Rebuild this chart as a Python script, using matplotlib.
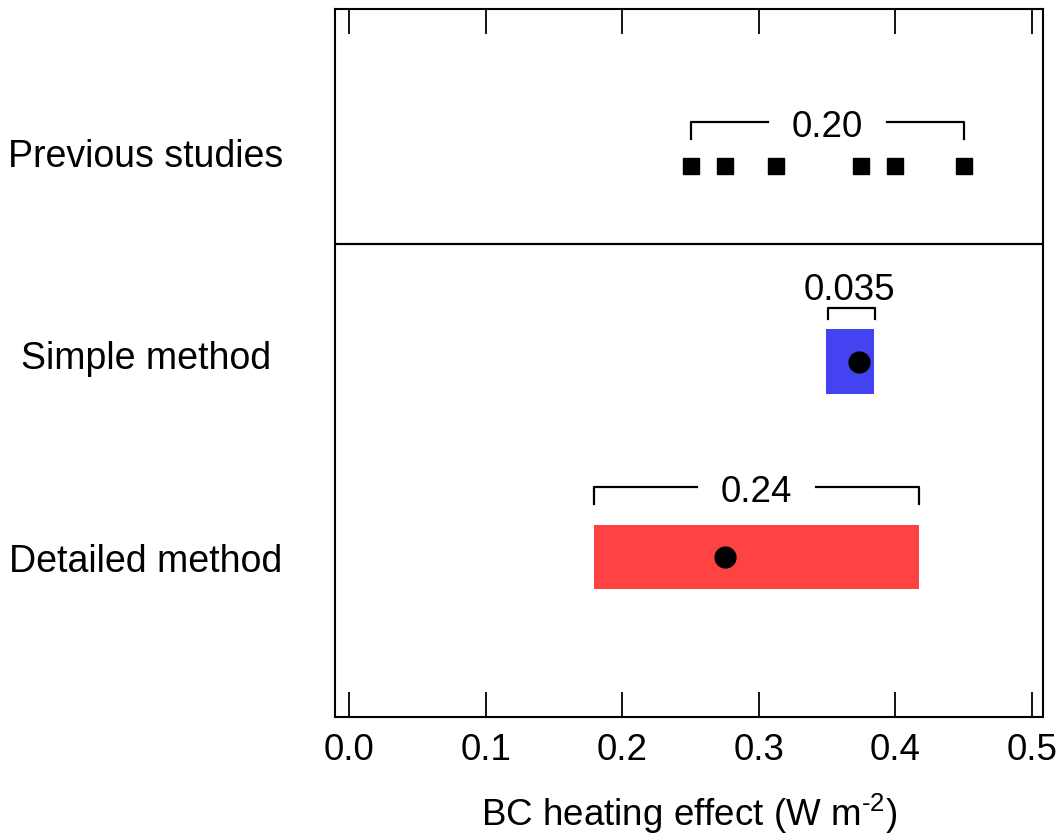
import numpy as np
import matplotlib
matplotlib.use("Agg")
import matplotlib.pyplot as plt
import matplotlib.transforms as mtransforms

plt.rcParams['font.family'] = ['Liberation Sans', 'DejaVu Sans']
plt.rcParams['mathtext.fontset'] = 'custom'
plt.rcParams['mathtext.rm'] = 'Liberation Sans'
plt.rcParams['mathtext.default'] = 'regular'

# data
row_names = ["Previous studies", "Simple method", "Detailed method"]
previous_values = [0.25, 0.275, 0.3125, 0.375, 0.40, 0.45]
range_low = [0.349, 0.1795]      # simple, detailed
range_high = [0.384, 0.4173]
central_values = [0.3735, 0.2755]
range_labels = ["0.20", "0.035", "0.24"]
xticks = [0.0, 0.1, 0.2, 0.3, 0.4, 0.5]

row_y = [3, 2, 1]
bar_colors = ['#4343f2', '#ff4242']

fig = plt.figure(figsize=(10.63, 8.37), dpi=100)
ax = fig.add_axes([335/1063, 1 - 718/837, (1043 - 335)/1063, (718 - 10)/837])

# previous studies squares
ax.plot(previous_values, [row_y[0]] * len(previous_values), 's', color='black',
        markersize=11.5, linestyle='none')

# method bars + central values
for i in range(2):
    y = row_y[i + 1]
    ax.barh(y, range_high[i] - range_low[i], left=range_low[i], height=0.33,
            color=bar_colors[i], edgecolor='none')
    ax.plot(central_values[i], y, 'o', color='black', markersize=15)


def bracket(x0, x1, y, drop, gap=None, lw=1.6):
    if gap is None:
        ax.plot([x0, x0, x1, x1], [y - drop, y, y, y - drop], color='black', lw=lw)
    else:
        mid = (x0 + x1) / 2
        ax.plot([x0, x0, mid - gap], [y - drop, y, y], color='black', lw=lw)
        ax.plot([mid + gap, x1, x1], [y, y, y - drop], color='black', lw=lw)


fs = 26.5
# previous studies range
p0, p1 = min(previous_values), max(previous_values)
bracket(p0, p1, row_y[0] + 0.225, 0.087, gap=0.0435)
ax.text((p0 + p1) / 2, row_y[0] + 0.225, range_labels[0], ha='center', va='center_baseline',
        fontsize=fs)

# simple method range
bracket(range_low[0] + 0.0015, range_high[0] + 0.001, row_y[1] + 0.276, 0.061)
ax.text((range_low[0] + range_high[0]) / 2, row_y[1] + 0.39, range_labels[1],
        ha='center', va='center_baseline', fontsize=fs)

# detailed method range
bracket(range_low[1], range_high[1], row_y[2] + 0.358, 0.087, gap=0.0435)
ax.text((range_low[1] + range_high[1]) / 2, row_y[2] + 0.358, range_labels[2],
        ha='center', va='center_baseline', fontsize=fs)

# divider
ax.axhline(2.60, color='black', lw=1.6)

ax.set_xlim(-0.0102, 0.508)
ax.set_ylim(0.182, 3.803)
ax.set_xticks(xticks)
ax.set_xticklabels([f"{v:.1f}" for v in xticks])
ax.set_yticks([])
ax.tick_params(axis='x', direction='in', length=18, width=1.3, labelsize=fs,
               top=True, pad=11)
for s in ax.spines.values():
    s.set_linewidth(1.5)
ax.set_xlabel(r"BC heating effect (W m$^{\text{-}2}$)", fontsize=fs, labelpad=17)

# row labels
trans = mtransforms.blended_transform_factory(fig.transFigure, ax.transData)
label_offsets = [0.0, -0.035, -0.07]
for name, y, off in zip(row_names, row_y, label_offsets):
    ax.text(146/1063, y + off, name, transform=trans, ha='center', va='baseline',
            fontsize=27)

fig.savefig("out.png", dpi=100)
